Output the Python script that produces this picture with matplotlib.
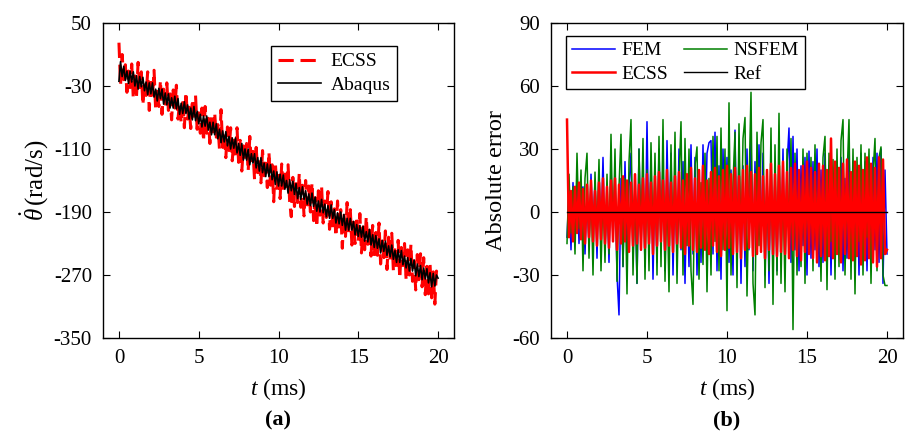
import numpy as np
import matplotlib
matplotlib.use("Agg")
import matplotlib.pyplot as plt

plt.rcParams['font.family'] = ['Liberation Serif', 'DejaVu Serif']
plt.rcParams['mathtext.fontset'] = 'custom'
plt.rcParams['mathtext.rm'] = 'Liberation Serif'
plt.rcParams['mathtext.it'] = 'Liberation Serif:italic'
plt.rcParams['axes.unicode_minus'] = False

# ---- panel (a): angular velocity, 0.1 ms steps ----
t_a = np.linspace(0, 20, 201)
abaqus = [
    -24, 1, -18, -5, -23, -11, -27, -11, -25, -12,
    -30, -17, -34, -18, -31, -19, -36, -25, -41, -26,
    -40, -26, -44, -34, -49, -33, -46, -34, -53, -39,
    -54, -40, -58, -45, -58, -43, -59, -46, -66, -52,
    -65, -50, -65, -54, -72, -58, -73, -56, -74, -62,
    -78, -66, -82, -68, -81, -68, -86, -76, -92, -76,
    -92, -78, -97, -85, -102, -87, -101, -88, -106, -94,
    -110, -96, -109, -96, -115, -103, -118, -103, -124, -110,
    -124, -110, -130, -116, -128, -116, -134, -121, -138, -121,
    -140, -128, -145, -129, -145, -130, -149, -138, -155, -139,
    -157, -142, -157, -143, -161, -150, -166, -149, -163, -151,
    -168, -154, -173, -159, -174, -158, -174, -163, -180, -167,
    -182, -166, -183, -171, -189, -176, -190, -174, -191, -180,
    -196, -182, -198, -181, -198, -187, -204, -191, -205, -190,
    -207, -193, -213, -198, -213, -198, -213, -202, -219, -206,
    -221, -207, -222, -208, -227, -215, -228, -212, -232, -219,
    -235, -220, -236, -224, -242, -226, -240, -227, -245, -233,
    -247, -232, -250, -239, -254, -238, -254, -239, -257, -246,
    -261, -248, -265, -249, -265, -251, -271, -256, -272, -258,
    -276, -261, -275, -262, -280, -267, -285, -268, -284, -270,
    -274,
]
ecss_a = [
    25, -29, 10, -22, -3, -38, -11, -32, -2, -46,
    -14, -43, 0, -32, -12, -54, -25, -42, -12, -61,
    -20, -45, -10, -60, -33, -56, -23, -66, -34, -53,
    -26, -61, -40, -73, -35, -58, -29, -72, -51, -77,
    -46, -83, -38, -72, -57, -84, -47, -74, -42, -85,
    -64, -90, -58, -100, -56, -90, -71, -103, -66, -94,
    -64, -95, -79, -110, -60, -108, -89, -121, -82, -112,
    -83, -125, -99, -120, -83, -127, -99, -138, -106, -125,
    -103, -138, -94, -130, -113, -149, -108, -140, -123, -153,
    -112, -144, -128, -159, -114, -156, -130, -177, -127, -160,
    -138, -173, -129, -164, -137, -163, -130, -177, -196, -146,
    -183, -154, -178, -141, -184, -156, -195, -150, -181, -157,
    -190, -153, -201, -172, -209, -163, -194, -157, -204, -176,
    -197, -164, -212, -177, -210, -186, -221, -176, -211, -187,
    -236, -191, -221, -178, -217, -187, -232, -203, -230, -196,
    -227, -192, -242, -209, -238, -196, -231, -208, -246, -207,
    -246, -216, -245, -204, -256, -227, -248, -214, -263, -222,
    -252, -217, -264, -234, -263, -226, -274, -235, -258, -230,
    -277, -238, -270, -231, -278, -252, -289, -244, -276, -243,
    -285, -248, -295, -259, -294, -257, -299, -266, -307, -265,
    -270,
]

# ---- panel (b): absolute error, 0.125 ms steps ----
t_b = np.linspace(0, 20, 161)
fem = [
    -12, 10, -18, 14, -8, 16, -15, 9,
    12, -20, 8, -16, 18, -10, 15, -22,
    20, -12, 26, -18, 10, -24, 22, -14,
    18, -30, -49, 16, -26, 24, -20, 12,
    28, -22, 14, -34, 30, -18, 22, -26,
    43, -20, 26, -32, 18, -24, 30, -16,
    24, -28, 34, -14, 28, -30, 16, -22,
    30, -18, 24, -34, 14, -26, 32, -20,
    26, -30, 18, -24, 32, -16, 28, 33,
    34, -20, 38, -28, 22, -32, 30, -18,
    26, -24, 20, -30, 39, -22, 28, -34,
    22, -26, 30, -18, 36, -28, 24, -20,
    32, -16, 28, -30, 20, -34, 26, -22,
    18, -28, 24, -20, 30, -26, 22, 40,
    -24, 36, -18, 30, -28, 22, -16, 26,
    -30, 29, -22, 24, -18, 30, -26, 20,
    -24, 28, -16, 22, -30, 18, -26, 24,
    -20, 26, -28, 16, -22, 30, -18, 24,
    -26, 20, -30, 28, -16, 24, -28, 22,
    -22, 26, -18, 28, -24, 30, -34, 20,
    -20,
]
nsfem = [
    -15, 18, -10, 12, -20, 28, -8, 20,
    -28, 16, 28, -22, 14, -30, 19, -12,
    25, -28, 10, -24, 18, -20, 37, -14,
    30, -33, 12, 37, -26, 16, -39, 24,
    44, -30, 14, -34, 30, -12, 35, -32,
    20, -28, 33, -15, 28, -30, 36, -26,
    44, -33, 12, -38, 32, -18, 38, -34,
    15, 43, -30, 35, -16, 30, -28, -44,
    22, 31, -32, 14, -25, 28, -38, 16,
    -30, 36, -14, 36, -28, 40, -18, 30,
    -47, 52, -30, 14, 38, -36, 42, -18,
    35, 45, -40, 12, 57, -34, -49, 38,
    -16, 33, 44, -36, 18, -28, 40, -44,
    32, -30, 47, -34, 16, -38, 30, -12,
    35, -56, 28, -30, 14, -26, 30, -34,
    28, -16, 26, -28, 32, -24, 12, -33,
    26, 36, -37, 28, -14, 25, -32, 30,
    -26, 34, 44, -30, 16, 44, -32, 30,
    -39, 26, -14, 32, -30, 28, -12, 30,
    -34, 18, 35, -28, 26, 31, -30, -35,
    -35,
]
ecss_b = [
    44, -12, 10, -14, 12, -10, 14, -13,
    11, -15, 13, -12, 15, -14, 10, -16,
    14, -13, 16, -15, 12, -17, 15, -14,
    16, -18, 13, -15, 17, -14, 15, -19,
    14, -16, 18, -15, 13, -18, 16, -17,
    18, -15, 14, -20, 17, -16, 19, -14,
    15, -18, 20, -16, 14, -19, 17, -15,
    19, -17, 15, -20, 18, -16, 21, -18,
    16, -19, 20, -17, 22, -18, 15, -20,
    19, -16, 21, -19, 17, -21, 20, -18,
    22, -17, 18, -20, 21, -19, 17, -22,
    20, -18, 22, -17, 19, -21, 18, -20,
    21, -19, 17, -22, 20, -18, 23, -20,
    18, -21, 22, -19, 24, -20, 19, -22,
    21, -18, 23, -21, 20, -23, 22, -19,
    24, -20, 21, -22, 19, -24, 23, -21,
    22, -23, 20, -21, 35, -22, 24, -20,
    21, -24, 23, -20, 25, -22, 19, -23,
    24, -21, 22, -25, 20, -23, 26, -22,
    23, -24, 21, -26, 26, -22, 25, -20,
    -18,
]
ref_t = [0, 20]
ref_b = [0, 0]

xticks = [0, 5, 10, 15, 20]
yticks_a = [50, -30, -110, -190, -270, -350]
yticks_b = [-60, -30, 0, 30, 60, 90]

fig = plt.figure(figsize=(9.08, 4.34), dpi=100)
ax1 = fig.add_axes([103 / 908, 96 / 434, 351 / 908, 315 / 434])
ax2 = fig.add_axes([551 / 908, 96 / 434, 352 / 908, 315 / 434])

ax1.plot(t_a, ecss_a, color='red', lw=2.2, dashes=(5, 2.2), label='ECSS')
ax1.plot(t_a, abaqus, color='black', lw=1.2, label='Abaqus')
ax1.set_ylim(-350, 50)
ax1.set_yticks(yticks_a)
ax1.set_ylabel(r'$\dot{\theta}\,$(rad/s)', fontsize=18, labelpad=2)
ax1.legend(loc='upper right', bbox_to_anchor=(0.838, 0.927), fontsize=14,
           fancybox=False, edgecolor='black', framealpha=1, handlelength=2.2,
           borderpad=0.35, labelspacing=0.3, handletextpad=0.5,
           borderaxespad=0)

ax2.plot(t_b, fem, color='#0000ff', lw=1.1, label='FEM')
ax2.plot(t_b, nsfem, color='#008000', lw=1.1, label='NSFEM')
ax2.plot(t_b, ecss_b, color='red', lw=1.8, label='ECSS')
ax2.plot(ref_t, ref_b, color='black', lw=1.0, label='Ref')
ax2.set_ylim(-60, 90)
ax2.set_yticks(yticks_b)
ax2.set_ylabel('Absolute error', fontsize=17.5, labelpad=4)
h, l = ax2.get_legend_handles_labels()
order = [0, 2, 1, 3]
ax2.legend([h[i] for i in order], [l[i] for i in order], ncol=2,
           loc='upper left', bbox_to_anchor=(0.043, 0.959), fontsize=14,
           fancybox=False, edgecolor='black', framealpha=1, handlelength=2.2,
           borderpad=0.3, labelspacing=0.3, handletextpad=0.35,
           columnspacing=0.8, borderaxespad=0)

for ax in (ax1, ax2):
    ax.set_xlim(-1, 21)
    ax.set_xticks(xticks)
    ax.set_xlabel(r'$t$ (ms)', fontsize=17, labelpad=6)
    ax.tick_params(direction='in', top=True, right=True, length=5,
                   labelsize=15, pad=8)
    for s in ax.spines.values():
        s.set_linewidth(1.0)

fig.text((103 + 454) / 2 / 908, 14 / 434, '(a)', ha='center', va='center',
         fontsize=16, fontweight='bold')
fig.text((551 + 903) / 2 / 908, 14 / 434, '(b)', ha='center', va='center',
         fontsize=16, fontweight='bold')

fig.savefig('out.png', dpi=100)
